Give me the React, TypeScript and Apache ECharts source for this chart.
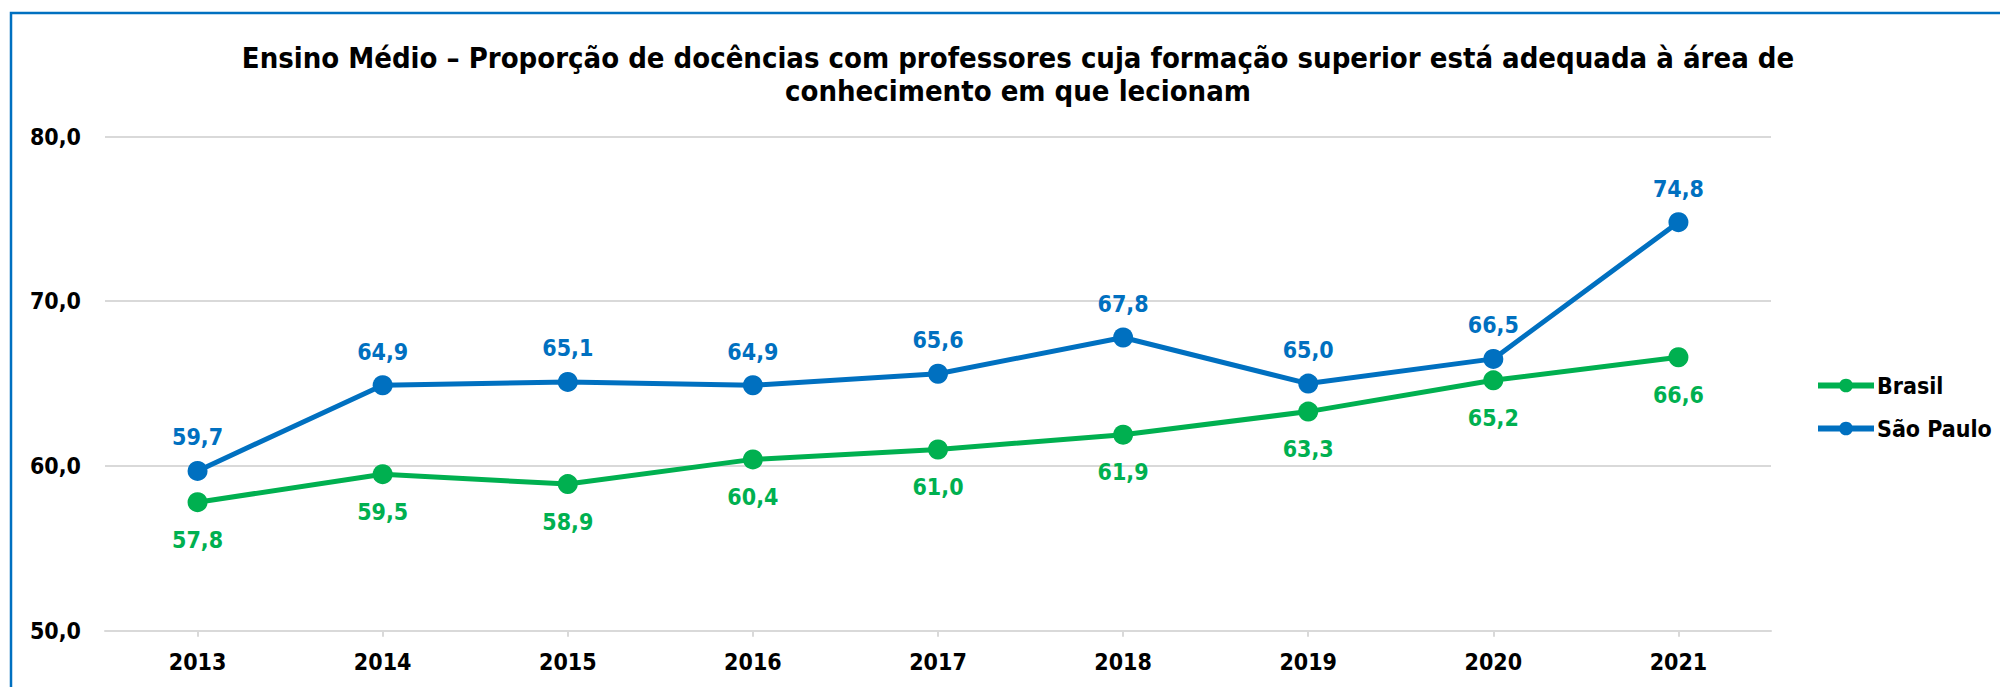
import React, { useEffect, useRef } from "react";
import * as echarts from "echarts";

const years = ["2013", "2014", "2015", "2016", "2017", "2018", "2019", "2020", "2021"];
const brasil = [57.8, 59.5, 58.9, 60.4, 61.0, 61.9, 63.3, 65.2, 66.6];
const saoPaulo = [59.7, 64.9, 65.1, 64.9, 65.6, 67.8, 65.0, 66.5, 74.8];
const yMin = 50;
const yMax = 80;
const yInterval = 10;
const titleText =
  "Ensino Médio – Proporção de docências com professores cuja formação superior está adequada à área de\nconhecimento em que lecionam";

const GREEN = "#00B050";
const BLUE = "#0070C0";
const FONT = "'DejaVu Sans Condensed', 'DejaVu Sans', sans-serif";
const fmt = (v: number) => v.toFixed(1).replace(".", ",");

export default function App() {
  const ref = useRef<HTMLDivElement>(null);
  useEffect(() => {
    if (!ref.current) return;
    const chart = echarts.init(ref.current, null, { renderer: "svg" });
    const labelBase = {
      show: true,
      fontFamily: FONT,
      fontWeight: "bold" as const,
      fontSize: 23,
      formatter: (p: any) => fmt(p.value),
    };
    chart.setOption({
      animation: false,
      backgroundColor: "#fff",
      textStyle: { fontFamily: FONT },
      title: {
        text: titleText,
        left: 1013,
        top: 36,
        textAlign: "center",
        textStyle: {
          fontFamily: FONT,
          fontWeight: "bold",
          fontSize: 29,
          lineHeight: 33,
          color: "#000",
        },
      },
      graphic: [
        {
          type: "rect",
          silent: true,
          z: -1,
          shape: { x: 11, y: 13, width: 2200, height: 1000 },
          style: { fill: "none", stroke: BLUE, lineWidth: 2.5 },
        },
      ],
      legend: {
        orient: "vertical",
        left: 1810,
        top: 369,
        itemWidth: 56,
        itemHeight: 17,
        itemGap: 20,
        lineStyle: { width: 6 },
        textStyle: {
          fontFamily: FONT,
          fontWeight: "bold",
          fontSize: 23,
          color: "#000",
          padding: [0, 0, 0, -2],
        },
        data: ["Brasil", "São Paulo"],
      },
      grid: { left: 105, right: 229, top: 136.5, bottom: 56.3, containLabel: false },
      xAxis: {
        type: "category",
        data: years,
        boundaryGap: true,
        axisLine: { lineStyle: { color: "#D9D9D9", width: 2 } },
        axisTick: { show: true, alignWithLabel: true, length: 6, lineStyle: { color: "#D9D9D9", width: 2 } },
        axisLabel: {
          margin: 20,
          fontFamily: FONT,
          fontWeight: "bold",
          fontSize: 23,
          color: "#000",
        },
      },
      yAxis: {
        type: "value",
        min: yMin,
        max: yMax,
        interval: yInterval,
        axisLine: { show: false },
        axisTick: { show: false },
        splitLine: { lineStyle: { color: "#D9D9D9", width: 2 } },
        axisLabel: {
          margin: 24,
          fontFamily: FONT,
          fontWeight: "bold",
          fontSize: 23,
          color: "#000",
          formatter: (v: number) => fmt(v),
        },
      },
      series: [
        {
          name: "Brasil",
          type: "line",
          data: brasil,
          symbol: "circle",
          symbolSize: 20,
          lineStyle: { color: GREEN, width: 5 },
          itemStyle: { color: GREEN },
          label: { ...labelBase, position: "bottom", distance: 16, color: GREEN },
          z: 2,
        },
        {
          name: "São Paulo",
          type: "line",
          data: saoPaulo,
          symbol: "circle",
          symbolSize: 20,
          lineStyle: { color: BLUE, width: 5 },
          itemStyle: { color: BLUE },
          label: { ...labelBase, position: "top", distance: 12, color: BLUE },
          z: 3,
        },
      ],
    });
    return () => chart.dispose();
  }, []);
  return (
    <div
      style={{ position: "fixed", left: 0, top: 0, width: 2000, height: 687, background: "#fff" }}
    >
      <div ref={ref} style={{ width: 2000, height: 687 }} />
    </div>
  );
}
